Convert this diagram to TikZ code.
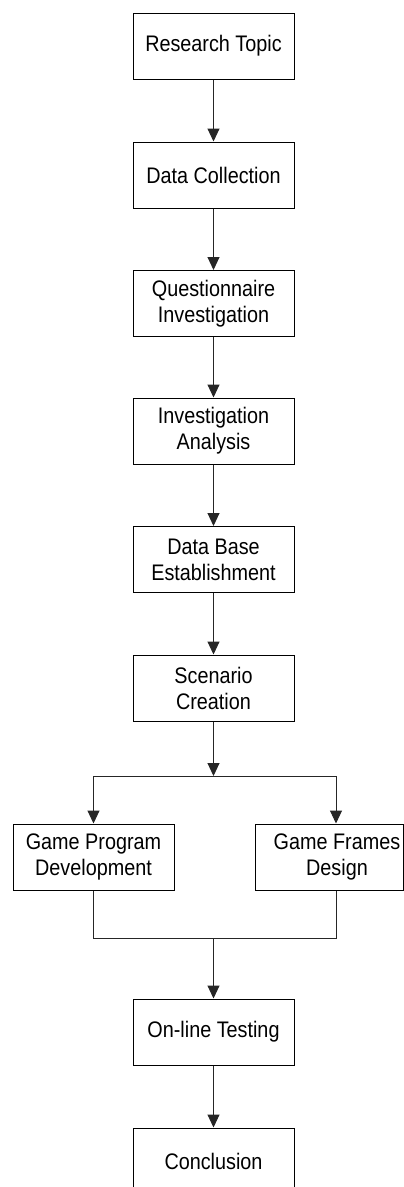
\documentclass[tikz,border=0pt]{standalone}
\usepackage{fontspec}
\setmainfont{Liberation Sans}[FakeStretch=0.88]
\usetikzlibrary{arrows.meta}
\begin{document}
\begin{tikzpicture}[x=1pt,y=-1pt,
  stepbox/.style={draw=black, line width=1pt, minimum width=161pt, minimum height=66pt,
    inner sep=0pt, align=center, font=\fontsize{22.5}{26}\selectfont},
  link/.style={draw=black!85, line width=1pt},
  arr/.style={link, -{Triangle[length=13pt,width=12pt]}}]
\useasboundingbox (0,0) rectangle (404,1187);
\clip (0,0) rectangle (404,1187);

% main column
\node[stepbox] (topic)   at (213.5,46)    {Research Topic};
\node[stepbox] (collect) at (213.5,175)   {Data Collection};
\node[stepbox] (quest)   at (213.5,303.5) {Questionnaire\\Investigation};
\node[stepbox] (anal)    at (213.5,431)   {Investigation\\Analysis};
\node[stepbox] (dbase)   at (213.5,559.5) {Data Base\\Establishment};
\node[stepbox] (scen)    at (213.5,688)   {Scenario\\Creation};

% parallel branch
\node[stepbox] (prog)    at (93.5,857)    {Game Program\\Development};
\node[stepbox, minimum width=148pt] (frames) at (329,857)
  {\hspace*{16pt}Game Frames\\\hspace*{16pt}Design};

\node[stepbox] (online)  at (213.5,1032)  {On-line Testing};
\node[stepbox] (concl)   at (213.5,1161)  {Conclusion};

% split and merge points
\coordinate (split)  at (213.5,776);
\coordinate (splitL) at (93.5,776);
\coordinate (splitR) at (336,776);
\coordinate (merge)  at (213.5,938);
\coordinate (mergeL) at (93.5,938);
\coordinate (mergeR) at (336,938);

\draw[arr] (topic) -- (collect);
\draw[arr] (collect) -- (quest);
\draw[arr] (quest) -- (anal);
\draw[arr] (anal) -- (dbase);
\draw[arr] (dbase) -- (scen);
\draw[arr] (scen) -- (split);
\draw[link] (splitL) -- (splitR);
\draw[arr] (splitL) -- (prog);
\draw[arr] (splitR) -- (frames.north -| splitR);
\draw[link] (prog) -- (mergeL) -- (mergeR) -- (frames.south -| mergeR);
\draw[arr] (merge) -- (online);
\draw[arr] (online) -- (concl);
\end{tikzpicture}
\end{document}
